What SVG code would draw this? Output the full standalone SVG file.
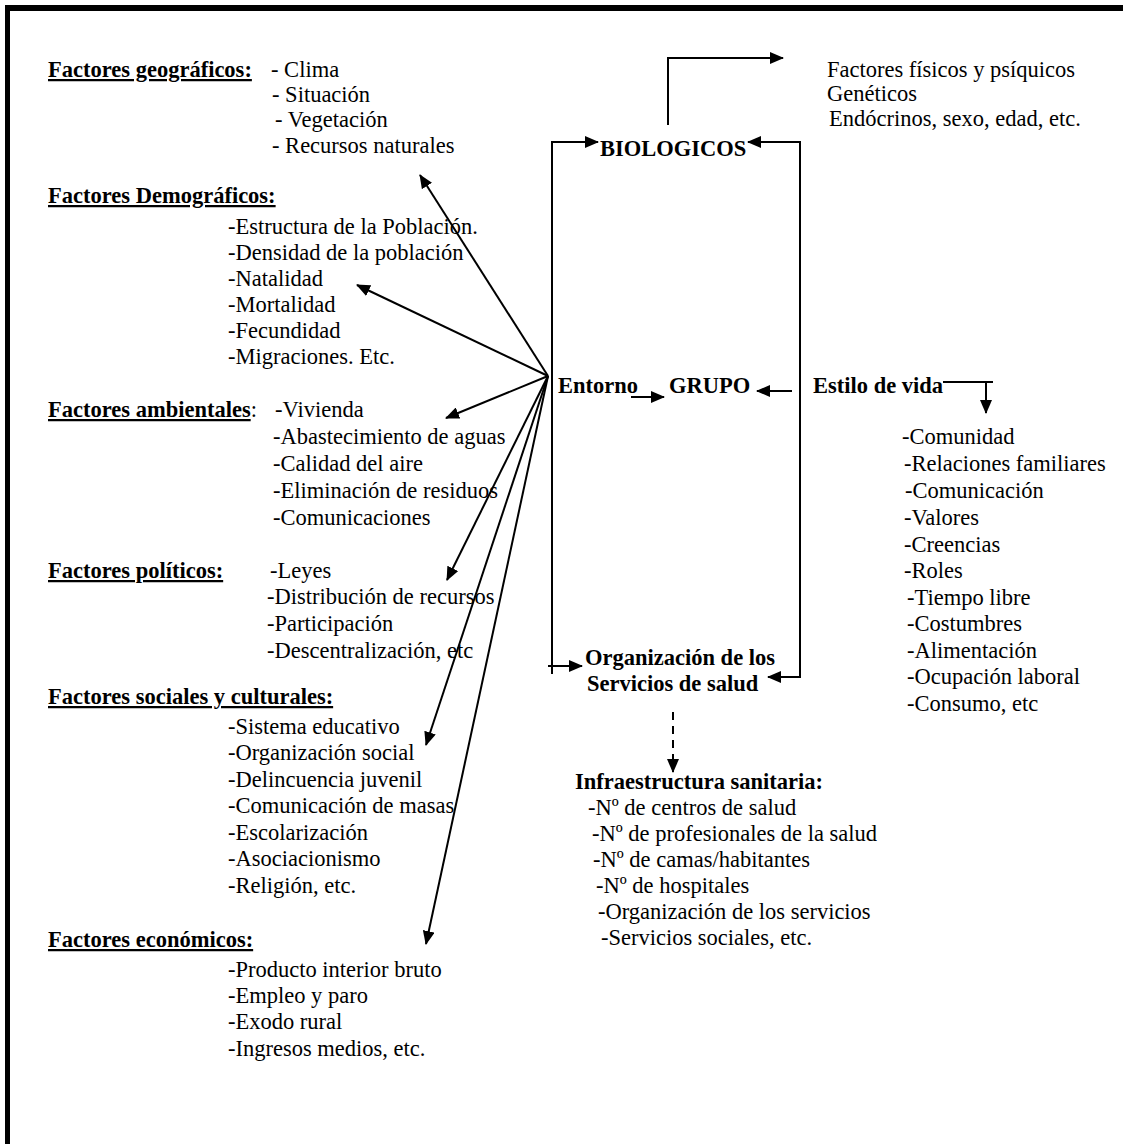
<svg xmlns="http://www.w3.org/2000/svg" width="1123" height="1144" viewBox="0 0 1123 1144">
<defs>
<marker id="ah" markerUnits="userSpaceOnUse" markerWidth="14" markerHeight="12" refX="13" refY="6" orient="auto"><path d="M0,0 L14,6 L0,12 z" fill="#000"/></marker>
</defs>
<style>
text{font-family:"Liberation Serif","Times New Roman",serif;font-size:22.5px;fill:#000}
.b{font-weight:bold}
.u{text-decoration:underline}
.c{stroke:#000;stroke-width:2;fill:none}
.a{marker-end:url(#ah)}
.d{stroke-dasharray:8,6}
</style>
<rect width="1123" height="1144" fill="#fff"/>
<g id="frame"><rect x="5" y="5" width="1118" height="6"/><rect x="5" y="5" width="5" height="1139"/></g>

<g id="geograficos">
<text x="48" y="77" class="b u">Factores geográficos:</text>
<text x="271" y="77">- Clima</text>
<text x="272" y="102">- Situación</text>
<text x="275" y="127">- Vegetación</text>
<text x="272" y="153">- Recursos naturales</text>
</g>
<g id="demograficos">
<text x="48" y="203" class="b u">Factores Demográficos:</text>
<text x="228" y="234">-Estructura de la Población.</text>
<text x="228" y="260">-Densidad de la población</text>
<text x="228" y="286">-Natalidad</text>
<text x="228" y="312">-Mortalidad</text>
<text x="228" y="338">-Fecundidad</text>
<text x="228" y="364">-Migraciones. Etc.</text>
</g>
<g id="ambientales">
<text x="48" y="417"><tspan class="b u">Factores ambientales</tspan>:</text>
<text x="275" y="417">-Vivienda</text>
<text x="273" y="444">-Abastecimiento de aguas</text>
<text x="273" y="471">-Calidad del aire</text>
<text x="273" y="498">-Eliminación de residuos</text>
<text x="273" y="525">-Comunicaciones</text>
</g>
<g id="politicos">
<text x="48" y="578" class="b u">Factores políticos:</text>
<text x="270" y="578">-Leyes</text>
<text x="267" y="604">-Distribución de recursos</text>
<text x="267" y="631">-Participación</text>
<text x="267" y="658">-Descentralización, etc</text>
</g>
<g id="sociales">
<text x="48" y="704" class="b u">Factores sociales y culturales:</text>
<text x="228" y="734">-Sistema educativo</text>
<text x="228" y="760">-Organización social</text>
<text x="228" y="787">-Delincuencia juvenil</text>
<text x="228" y="813">-Comunicación de masas</text>
<text x="228" y="840">-Escolarización</text>
<text x="228" y="866">-Asociacionismo</text>
<text x="228" y="893">-Religión, etc.</text>
</g>
<g id="economicos">
<text x="48" y="947" class="b u">Factores económicos:</text>
<text x="228" y="977">-Producto interior bruto</text>
<text x="228" y="1003">-Empleo y paro</text>
<text x="228" y="1029">-Exodo rural</text>
<text x="228" y="1056">-Ingresos medios, etc.</text>
</g>
<g id="biologicos">
<text x="600" y="156" class="b">BIOLOGICOS</text>
</g>
<g id="factores-biologicos">
<text x="827" y="77">Factores físicos y psíquicos</text>
<text x="827" y="101">Genéticos</text>
<text x="829" y="126">Endócrinos, sexo, edad, etc.</text>
</g>
<g id="entorno"><text x="558" y="393" class="b">Entorno</text></g>
<g id="grupo"><text x="669" y="393" class="b">GRUPO</text></g>
<g id="estilo-vida"><text x="813" y="393" class="b">Estilo de vida</text></g>
<g id="estilo-lista">
<text x="902" y="444">-Comunidad</text>
<text x="904" y="471">-Relaciones familiares</text>
<text x="905" y="498">-Comunicación</text>
<text x="904" y="525">-Valores</text>
<text x="904" y="552">-Creencias</text>
<text x="904" y="578">-Roles</text>
<text x="907" y="605">-Tiempo libre</text>
<text x="907" y="631">-Costumbres</text>
<text x="907" y="658">-Alimentación</text>
<text x="907" y="684">-Ocupación laboral</text>
<text x="907" y="711">-Consumo, etc</text>
</g>
<g id="organizacion">
<text x="585" y="665" class="b">Organización de los</text>
<text x="587" y="691" class="b">Servicios de salud</text>
</g>
<g id="infraestructura">
<text x="575" y="789" class="b">Infraestructura sanitaria:</text>
<text x="588" y="815">-Nº de centros de salud</text>
<text x="592" y="841">-Nº de profesionales de la salud</text>
<text x="593" y="867">-Nº de camas/habitantes</text>
<text x="596" y="893">-Nº de hospitales</text>
<text x="598" y="919">-Organización de los servicios</text>
<text x="601" y="945">-Servicios sociales, etc.</text>
</g>

<g id="connectors">
<line x1="548" y1="376" x2="420" y2="175" class="c a"/>
<line x1="548" y1="376" x2="357" y2="285" class="c a"/>
<line x1="548" y1="376" x2="446" y2="418" class="c a"/>
<line x1="548" y1="376" x2="447" y2="580" class="c a"/>
<line x1="548" y1="376" x2="426" y2="745" class="c a"/>
<line x1="548" y1="376" x2="426" y2="944" class="c a"/>
<polyline points="668,125 668,58 783,58" class="c a"/>
<line x1="552" y1="142" x2="552" y2="674" class="c"/>
<line x1="551" y1="142" x2="598" y2="142" class="c a"/>
<line x1="548" y1="666" x2="582" y2="666" class="c a"/>
<line x1="800" y1="142" x2="800" y2="678" class="c"/>
<line x1="801" y1="142" x2="748" y2="142" class="c a"/>
<line x1="801" y1="677" x2="768" y2="677" class="c a"/>
<line x1="631" y1="397" x2="664" y2="397" class="c a"/>
<line x1="792" y1="391" x2="757" y2="391" class="c a"/>
<line x1="943" y1="382" x2="993" y2="382" class="c"/>
<line x1="986" y1="382" x2="986" y2="413" class="c a"/>
<line x1="673" y1="712" x2="673" y2="772" class="c a d"/>
</g>
</svg>
